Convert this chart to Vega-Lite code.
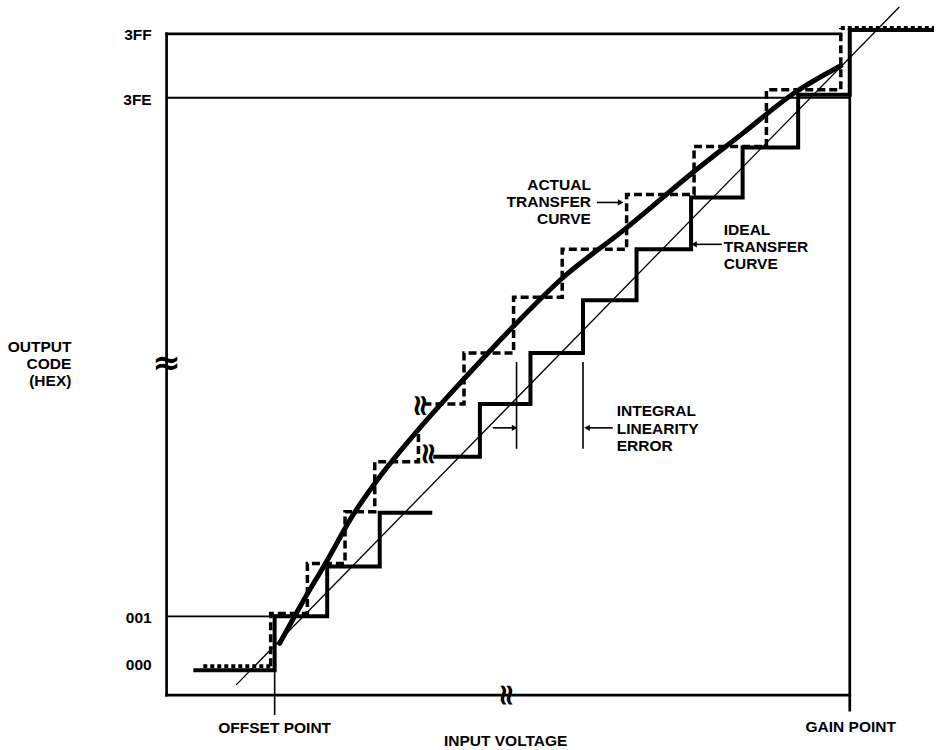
{
  "$schema": "https://vega.github.io/schema/vega-lite/v6.json",
  "width": 942,
  "height": 750,
  "autosize": {"type": "fit", "contains": "padding"},
  "padding": 0,
  "background": "white",
  "config": {"view": {"stroke": null}},
  "datasets": {
    "frame": [
      {"name": "y axis", "x": -2.067, "y": -0.472, "x2": -2.067, "y2": 12.038},
      {"name": "top 3FF line", "x": -2.067, "y": 12.038, "x2": 10.829, "y2": 12.038},
      {"name": "bottom axis", "x": -2.067, "y": -0.472, "x2": 11.0, "y2": -0.472},
      {"name": "gain point", "x": 11.0, "y": -0.755, "x2": 11.0, "y2": 12.113}
    ],
    "refLines": [
      {"name": "3FE level", "x": -2.067, "y": 10.83, "x2": 11.0, "y2": 10.83}
    ],
    "thin": [
      {"name": "001 level", "x": -2.067, "y": 1.019, "x2": 0, "y2": 1.019},
      {"name": "offset point", "x": 0, "y": -0.849, "x2": 0, "y2": 1.019},
      {"name": "ILE marker 1", "x": 4.627, "y": 4.189, "x2": 4.627, "y2": 5.83},
      {"name": "ILE marker 2", "x": 5.898, "y": 4.189, "x2": 5.898, "y2": 5.83},
      {"name": "actual arrow", "x": 6.1635, "y": 8.849, "x2": 6.581, "y2": 8.849},
      {"name": "ideal arrow", "x": 8.553, "y": 8.057, "x2": 8.06, "y2": 8.057},
      {"name": "ILE arrow right", "x": 6.467, "y": 4.585, "x2": 6.012, "y2": 4.585},
      {"name": "ILE arrow left", "x": 4.172, "y": 4.585, "x2": 4.552, "y2": 4.585}
    ],
    "diag": [
      {"name": "ideal straight line", "x": -0.74, "y": -0.283, "x2": 11.948, "y2": 12.547}
    ],
    "ideal": [
      {"part": "lower", "i": 0, "x": -1.555, "y": 0},
      {"part": "lower", "i": 1, "x": 0, "y": 0},
      {"part": "lower", "i": 2, "x": 0, "y": 1.019},
      {"part": "lower", "i": 3, "x": 1.005, "y": 1.019},
      {"part": "lower", "i": 4, "x": 1.005, "y": 1.962},
      {"part": "lower", "i": 5, "x": 2.01, "y": 1.962},
      {"part": "lower", "i": 6, "x": 2.01, "y": 2.981},
      {"part": "lower", "i": 7, "x": 3.015, "y": 2.981},
      {"part": "upper", "i": 0, "x": 3.034, "y": 4.038},
      {"part": "upper", "i": 1, "x": 3.926, "y": 4.038},
      {"part": "upper", "i": 2, "x": 3.926, "y": 5.038},
      {"part": "upper", "i": 3, "x": 4.893, "y": 5.038},
      {"part": "upper", "i": 4, "x": 4.893, "y": 6.0},
      {"part": "upper", "i": 5, "x": 5.898, "y": 6.0},
      {"part": "upper", "i": 6, "x": 5.898, "y": 7.0},
      {"part": "upper", "i": 7, "x": 6.922, "y": 7.0},
      {"part": "upper", "i": 8, "x": 6.922, "y": 7.962},
      {"part": "upper", "i": 9, "x": 7.965, "y": 7.962},
      {"part": "upper", "i": 10, "x": 7.965, "y": 8.943},
      {"part": "upper", "i": 11, "x": 8.951, "y": 8.943},
      {"part": "upper", "i": 12, "x": 8.951, "y": 9.887},
      {"part": "upper", "i": 13, "x": 10.013, "y": 9.887},
      {"part": "upper", "i": 14, "x": 10.013, "y": 10.887},
      {"part": "upper", "i": 15, "x": 11.0, "y": 10.887},
      {"part": "upper", "i": 16, "x": 11.0, "y": 12.113},
      {"part": "upper", "i": 17, "x": 12.611, "y": 12.113}
    ],
    "actualSteps": [
      {"part": "lower", "i": 0, "x": -0.076, "y": 0.075},
      {"part": "lower", "i": 1, "x": -0.076, "y": 1.075},
      {"part": "lower", "i": 2, "x": 0.626, "y": 1.075},
      {"part": "lower", "i": 3, "x": 0.626, "y": 2.019},
      {"part": "lower", "i": 4, "x": 1.346, "y": 2.019},
      {"part": "lower", "i": 5, "x": 1.346, "y": 3.0},
      {"part": "lower", "i": 6, "x": 1.915, "y": 3.0},
      {"part": "lower", "i": 7, "x": 1.915, "y": 3.943},
      {"part": "lower", "i": 8, "x": 2.75, "y": 3.943},
      {"part": "lower", "i": 9, "x": 2.75, "y": 4.472},
      {"part": "upper", "i": 0, "x": 2.845, "y": 5.038},
      {"part": "upper", "i": 1, "x": 3.622, "y": 5.038},
      {"part": "upper", "i": 2, "x": 3.622, "y": 6.0},
      {"part": "upper", "i": 3, "x": 4.57, "y": 6.0},
      {"part": "upper", "i": 4, "x": 4.57, "y": 7.057},
      {"part": "upper", "i": 5, "x": 5.5, "y": 7.057},
      {"part": "upper", "i": 6, "x": 5.5, "y": 7.962},
      {"part": "upper", "i": 7, "x": 6.732, "y": 7.962},
      {"part": "upper", "i": 8, "x": 6.732, "y": 9.0},
      {"part": "upper", "i": 9, "x": 8.022, "y": 9.0},
      {"part": "upper", "i": 10, "x": 8.022, "y": 9.906},
      {"part": "upper", "i": 11, "x": 9.406, "y": 9.906},
      {"part": "upper", "i": 12, "x": 9.406, "y": 10.981},
      {"part": "upper", "i": 13, "x": 10.829, "y": 10.981},
      {"part": "upper", "i": 14, "x": 10.829, "y": 12.151}
    ],
    "hatchFlat": [
      {"name": "code 000", "x": -1.365, "y": 0.075, "x2": -0.076, "y2": 0.075},
      {"name": "code 3FF", "x": 10.829, "y": 12.151, "x2": 12.611, "y2": 12.151}
    ],
    "curve": [
      {"i": 0, "x": 0.095, "y": 0.509},
      {"i": 1, "x": 0.531, "y": 1.283},
      {"i": 2, "x": 1.005, "y": 2.076},
      {"i": 3, "x": 1.479, "y": 2.906},
      {"i": 4, "x": 1.953, "y": 3.585},
      {"i": 5, "x": 2.712, "y": 4.509},
      {"i": 6, "x": 3.603, "y": 5.491},
      {"i": 7, "x": 4.552, "y": 6.491},
      {"i": 8, "x": 5.5, "y": 7.415},
      {"i": 9, "x": 6.695, "y": 8.34},
      {"i": 10, "x": 8.022, "y": 9.434},
      {"i": 11, "x": 8.97, "y": 10.17},
      {"i": 12, "x": 9.918, "y": 10.906},
      {"i": 13, "x": 10.829, "y": 11.434}
    ],
    "arrowHeads": [
      {"name": "actual", "x": 6.619, "y": 8.849, "dir": "right"},
      {"name": "ideal", "x": 8.022, "y": 8.057, "dir": "left"},
      {"name": "ILE right", "x": 5.974, "y": 4.585, "dir": "left"},
      {"name": "ILE left", "x": 4.589, "y": 4.585, "dir": "right"}
    ],
    "breaksH": [
      {"x": -2.067, "y": 5.7925, "text": "≈"}
    ],
    "breaksV": [
      {"x": 4.419, "y": -0.472, "text": "≈"},
      {"x": 2.93, "y": 4.094, "text": "≈"},
      {"x": 2.775, "y": 5.006, "text": "≈"}
    ],
    "labelsRight": [
      {"x": -2.3516, "y": 12.019, "text": "3FF"},
      {"x": -2.3516, "y": 10.7925, "text": "3FE"},
      {"x": -2.3516, "y": 0.9811, "text": "001"},
      {"x": -2.3516, "y": 0.0943, "text": "000"},
      {"x": -3.8877, "y": 6.1132, "text": "OUTPUT"},
      {"x": -3.8877, "y": 5.7925, "text": "CODE"},
      {"x": -3.8877, "y": 5.4717, "text": "(HEX)"},
      {"x": 6.0497, "y": 9.1887, "text": "ACTUAL"},
      {"x": 6.0497, "y": 8.8491, "text": "TRANSFER"},
      {"x": 6.0497, "y": 8.5283, "text": "CURVE"}
    ],
    "labelsLeft": [
      {"x": 8.5909, "y": 8.32, "text": "IDEAL"},
      {"x": 8.5909, "y": 8.0, "text": "TRANSFER"},
      {"x": 8.5909, "y": 7.68, "text": "CURVE"},
      {"x": 6.5428, "y": 4.9057, "text": "INTEGRAL"},
      {"x": 6.5428, "y": 4.566, "text": "LINEARITY"},
      {"x": 6.5428, "y": 4.2453, "text": "ERROR"}
    ],
    "labelsCenter": [
      {"x": 0, "y": -1.0943, "text": "OFFSET POINT"},
      {"x": 11.018, "y": -1.0755, "text": "GAIN POINT"},
      {"x": 4.419, "y": -1.3396, "text": "INPUT VOLTAGE"}
    ]
  },
  "encoding": {
    "x": {"field": "x", "type": "quantitative", "scale": {"domain": [-5.2532, 12.6114], "nice": false, "zero": false}, "axis": null},
    "y": {"field": "y", "type": "quantitative", "scale": {"domain": [-1.4717, 12.6792], "nice": false, "zero": false}, "axis": null}
  },
  "layer": [
    {
      "data": {"name": "frame"},
      "mark": {"type": "rule", "color": "black", "strokeWidth": 2.7, "strokeCap": "square"},
      "encoding": {"x2": {"field": "x2"}, "y2": {"field": "y2"}}
    },
    {
      "data": {"name": "refLines"},
      "mark": {"type": "rule", "color": "black", "strokeWidth": 2.2},
      "encoding": {"x2": {"field": "x2"}, "y2": {"field": "y2"}}
    },
    {
      "data": {"name": "thin"},
      "mark": {"type": "rule", "color": "black", "strokeWidth": 1.6},
      "encoding": {"x2": {"field": "x2"}, "y2": {"field": "y2"}}
    },
    {
      "data": {"name": "diag"},
      "mark": {"type": "rule", "color": "black", "strokeWidth": 1.3},
      "encoding": {"x2": {"field": "x2"}, "y2": {"field": "y2"}}
    },
    {
      "data": {"name": "ideal"},
      "mark": {"type": "line", "color": "black", "strokeWidth": 4, "strokeJoin": "miter", "strokeCap": "butt"},
      "encoding": {"order": {"field": "i", "type": "quantitative"}, "detail": {"field": "part", "type": "nominal"}}
    },
    {
      "data": {"name": "actualSteps"},
      "mark": {"type": "line", "color": "black", "strokeWidth": 3.5, "strokeDash": [8, 4], "strokeJoin": "miter"},
      "encoding": {"order": {"field": "i", "type": "quantitative"}, "detail": {"field": "part", "type": "nominal"}}
    },
    {
      "data": {"name": "hatchFlat"},
      "mark": {"type": "rule", "color": "black", "strokeWidth": 4, "strokeDash": [4, 3]},
      "encoding": {"x2": {"field": "x2"}, "y2": {"field": "y2"}}
    },
    {
      "data": {"name": "curve"},
      "mark": {"type": "line", "color": "black", "strokeWidth": 5, "interpolate": "monotone", "strokeCap": "round"},
      "encoding": {"order": {"field": "i", "type": "quantitative"}}
    },
    {
      "data": {"name": "arrowHeads"},
      "mark": {"type": "point", "filled": true, "color": "black", "size": 40, "opacity": 1},
      "encoding": {"shape": {"field": "dir", "type": "nominal", "scale": {"domain": ["right", "left"], "range": ["triangle-right", "triangle-left"]}, "legend": null}}
    },
    {
      "data": {"name": "breaksH"},
      "mark": {"type": "text", "font": "DejaVu Sans", "fontWeight": "bold", "fontSize": 34, "baseline": "middle", "align": "center", "color": "black"},
      "encoding": {"text": {"field": "text"}}
    },
    {
      "data": {"name": "breaksV"},
      "mark": {"type": "text", "font": "DejaVu Sans", "fontWeight": "bold", "fontSize": 30, "baseline": "middle", "align": "center", "angle": 90, "color": "black"},
      "encoding": {"text": {"field": "text"}}
    },
    {
      "data": {"name": "labelsRight"},
      "mark": {"type": "text", "font": "Liberation Sans", "fontWeight": "bold", "fontSize": 15.5, "baseline": "middle", "align": "right", "color": "black"},
      "encoding": {"text": {"field": "text"}}
    },
    {
      "data": {"name": "labelsLeft"},
      "mark": {"type": "text", "font": "Liberation Sans", "fontWeight": "bold", "fontSize": 15.5, "baseline": "middle", "align": "left", "color": "black"},
      "encoding": {"text": {"field": "text"}}
    },
    {
      "data": {"name": "labelsCenter"},
      "mark": {"type": "text", "font": "Liberation Sans", "fontWeight": "bold", "fontSize": 15.5, "baseline": "middle", "align": "center", "color": "black"},
      "encoding": {"text": {"field": "text"}}
    }
  ]
}
